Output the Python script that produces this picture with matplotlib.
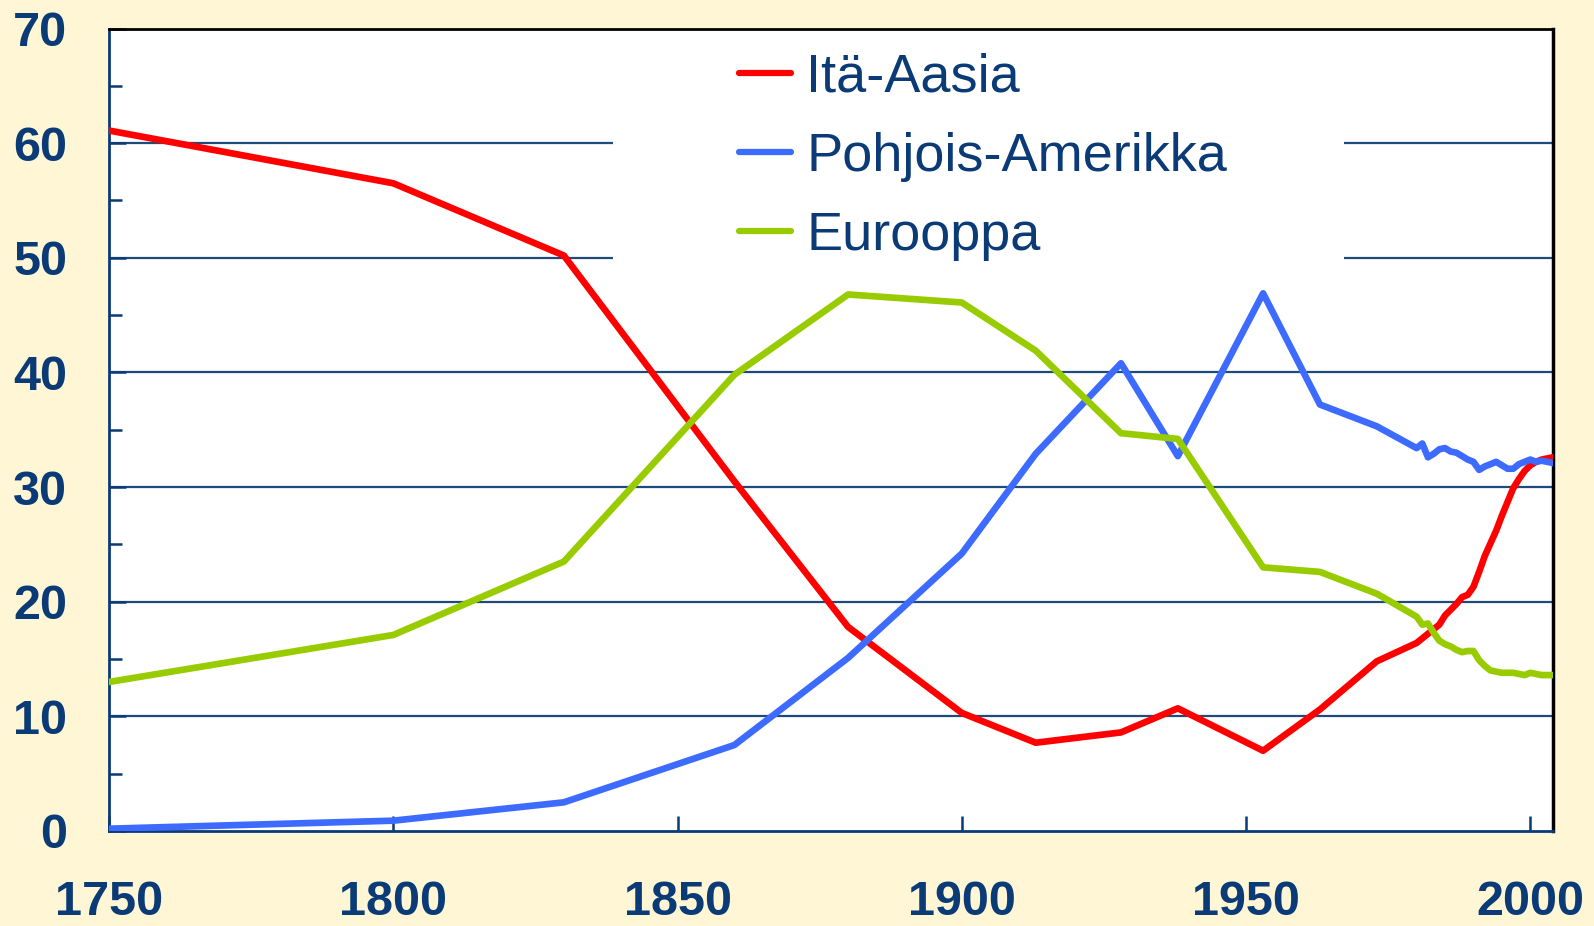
import matplotlib.pyplot as plt
from matplotlib.patches import Rectangle

plt.rcParams['font.family'] = ['Liberation Sans', 'DejaVu Sans']

vuodet = [1750, 1800, 1830, 1860, 1880, 1900, 1913, 1928, 1938, 1953, 1963, 1973,
          1980, 1981, 1982, 1983, 1984, 1985, 1986, 1987, 1988, 1989, 1990, 1991,
          1992, 1993, 1994, 1995, 1996, 1997, 1998, 1999, 2000, 2001, 2002, 2003, 2004]

ita_aasia = [61.1, 56.5, 50.2, 30.5, 17.8, 10.3, 7.7, 8.6, 10.7, 7.0, 10.6, 14.8,
             16.4, 16.8, 17.2, 17.6, 18.0, 18.8, 19.3, 19.8, 20.4, 20.6, 21.3, 22.6,
             24.0, 25.1, 26.2, 27.5, 28.7, 29.9, 30.7, 31.4, 31.9, 32.2, 32.4, 32.5, 32.6]

pohjois_amerikka = [0.2, 0.9, 2.5, 7.5, 15.1, 24.2, 32.9, 40.8, 32.7, 46.9, 37.2, 35.3,
                    33.4, 33.8, 32.6, 32.9, 33.3, 33.4, 33.1, 33.0, 32.7, 32.4, 32.2, 31.5,
                    31.8, 32.0, 32.2, 31.9, 31.6, 31.6, 32.0, 32.2, 32.4, 32.2, 32.3, 32.2, 32.1]

eurooppa = [13.0, 17.1, 23.5, 39.8, 46.8, 46.1, 41.9, 34.7, 34.2, 23.0, 22.6, 20.7,
            18.7, 18.0, 18.1, 17.3, 16.6, 16.3, 16.1, 15.8, 15.6, 15.7, 15.7, 14.9,
            14.4, 14.0, 13.9, 13.8, 13.8, 13.8, 13.7, 13.6, 13.8, 13.7, 13.6, 13.6, 13.6]

nimet = ['Itä-Aasia', 'Pohjois-Amerikka', 'Eurooppa']
varit = ['#FF0000', '#3D6BFF', '#99CC00']

navy = '#0B3B76'
tausta = '#FFF6D6'

fig = plt.figure(figsize=(15.94, 9.26), dpi=100, facecolor=tausta)
ax = fig.add_axes([0.0684, 0.1026, 0.9059, 0.8666])
ax.set_facecolor('white')

for sarja, nimi, vari in zip([ita_aasia, pohjois_amerikka, eurooppa], nimet, varit):
    ax.plot(vuodet, sarja, color=vari, lw=4.8, label=nimi, zorder=3)

ax.set_xlim(1750, 2004)
ax.set_ylim(0, 70)
ax.set_xticks(range(1750, 2001, 50))
ax.set_yticks(range(0, 71, 10))
ax.set_yticks(range(5, 70, 10), minor=True)

for y in range(10, 70, 10):
    ax.axhline(y, color='#1F4A7C', lw=1.6, zorder=1)

# valkoinen laatikko selitteen takana
ax.add_patch(Rectangle((0.349, 0.70), 0.506, 0.30, transform=ax.transAxes,
                       facecolor='white', edgecolor='none', zorder=2))

ax.tick_params(axis='y', which='major', direction='in', length=12, width=1.8,
               color=navy, pad=30, labelsize=35, labelcolor=navy)
ax.tick_params(axis='y', which='minor', direction='in', length=9, width=1.8, color=navy)
ax.tick_params(axis='x', direction='in', length=11, width=1.8, color=navy,
               pad=35, labelsize=35, labelcolor=navy)
for t in ax.get_xticklabels() + ax.get_yticklabels():
    t.set_fontweight('bold')

ax.spines['left'].set_color(navy)
ax.spines['bottom'].set_color(navy)
ax.spines['left'].set_linewidth(2)
ax.spines['bottom'].set_linewidth(2)
ax.spines['top'].set_color('black')
ax.spines['right'].set_color('black')
ax.spines['top'].set_linewidth(2)
ax.spines['right'].set_linewidth(2.5)

leg = ax.legend(loc='upper left', bbox_to_anchor=(0.436, 0.970), frameon=False,
                fontsize=39, handlelength=0.97, handletextpad=0.28, labelspacing=0.54,
                borderpad=0, borderaxespad=0)
for t in leg.get_texts():
    t.set_color(navy)
for h in leg.get_lines():
    h.set_linewidth(4.5)
    h.set_solid_capstyle('round')
leg.set_zorder(4)

plt.savefig('out.png', dpi=100, facecolor=tausta)
